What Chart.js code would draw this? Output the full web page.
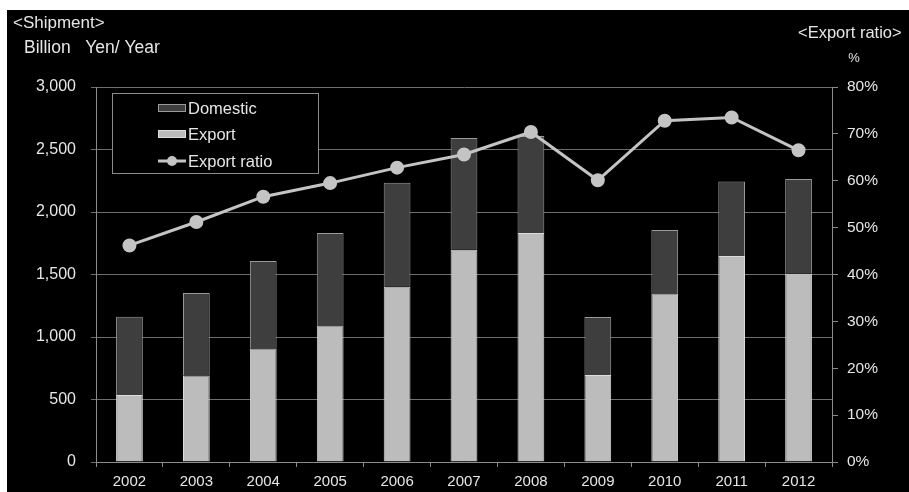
<!DOCTYPE html>
<html>
<head>
<meta charset="utf-8">
<script src="https://cdn.jsdelivr.net/npm/chart.js@4.4.1/dist/chart.umd.min.js"></script>
<style>
  html, body { margin: 0; padding: 0; background: #ffffff; }
  #wrap { position: absolute; left: 7px; top: 10px; width: 902px; height: 482px; background: #000000; }
  canvas { display: block; }
</style>
</head>
<body>
<div id="wrap"><canvas id="chart" width="902" height="482"></canvas></div>
<script>
// Shipment by year, billion yen
const years = ['2002', '2003', '2004', '2005', '2006', '2007', '2008', '2009', '2010', '2011', '2012'];
const exportShipment = [536, 693, 909, 1093, 1403, 1699, 1832, 696, 1349, 1648, 1507];
const domesticShipment = [626, 659, 699, 739, 831, 893, 776, 464, 507, 597, 757];
// Export ratio, percent
const exportRatio = [46.2, 51.2, 56.6, 59.5, 62.8, 65.6, 70.4, 60.1, 72.8, 73.5, 66.5];

const leftTicks = [0, 500, 1000, 1500, 2000, 2500, 3000];
const rightTicks = [0, 10, 20, 30, 40, 50, 60, 70, 80];

const textColor = '#e6e6e6';
const gridColor = '#6e6e6e';
const axisColor = '#8c8c8c';
const fontFamily = '"Liberation Sans", Arial, sans-serif';

// Headings above both value axes
const headings = {
  id: 'headings',
  afterDraw(chart) {
    const ctx = chart.ctx;
    ctx.save();
    ctx.fillStyle = textColor;
    ctx.textBaseline = 'middle';
    ctx.textAlign = 'left';
    ctx.font = '17px ' + fontFamily;
    ctx.fillText('<Shipment>', 6, 13);
    ctx.font = '17.5px ' + fontFamily;
    ctx.fillText('Billion   Yen/ Year', 17, 38);
    ctx.font = '16.5px ' + fontFamily;
    ctx.fillText('<Export ratio>', 791, 23);
    ctx.textAlign = 'center';
    ctx.font = '13px ' + fontFamily;
    ctx.fillText('%', 847, 48);
    ctx.restore();
  }
};

// Boxed legend in the upper left of the plot
const boxLegend = {
  id: 'boxLegend',
  afterDatasetsDraw(chart) {
    const ctx = chart.ctx;
    const area = chart.chartArea;
    const x0 = area.left + 16, y0 = area.top + 6, w = 206, h = 80;
    ctx.save();
    ctx.fillStyle = '#000000';
    ctx.fillRect(x0, y0, w, h);
    ctx.strokeStyle = axisColor;
    ctx.lineWidth = 1;
    ctx.strokeRect(x0 + 0.5, y0 + 0.5, w, h);
    const rows = [15, 41, 68];
    const items = [chart.data.datasets[1], chart.data.datasets[0], chart.data.datasets[2]];
    ctx.font = '16.5px ' + fontFamily;
    ctx.textBaseline = 'middle';
    ctx.textAlign = 'left';
    items.forEach((ds, i) => {
      const cy = y0 + rows[i];
      const sx = x0 + 46;
      if (ds.type === 'line') {
        ctx.strokeStyle = ds.borderColor;
        ctx.lineWidth = 3;
        ctx.beginPath();
        ctx.moveTo(sx, cy);
        ctx.lineTo(sx + 28, cy);
        ctx.stroke();
        ctx.fillStyle = ds.pointBackgroundColor;
        ctx.beginPath();
        ctx.arc(sx + 14, cy, 5, 0, Math.PI * 2);
        ctx.fill();
      } else {
        ctx.fillStyle = ds.backgroundColor;
        ctx.fillRect(sx, cy - 4, 28, 8);
        ctx.strokeStyle = ds.borderColor;
        ctx.lineWidth = 1;
        ctx.strokeRect(sx + 0.5, cy - 3.5, 27, 7);
      }
      ctx.fillStyle = textColor;
      ctx.fillText(ds.label, sx + 30, cy + 1);
    });
    ctx.restore();
  }
};

new Chart(document.getElementById('chart'), {
  data: {
    labels: years,
    datasets: [
      {
        type: 'bar',
        label: 'Export',
        data: exportShipment,
        backgroundColor: '#bcbcbc',
        borderColor: '#dcdcdc',
        borderWidth: 1,
        stack: 'shipment',
        yAxisID: 'y',
        order: 2
      },
      {
        type: 'bar',
        label: 'Domestic',
        data: domesticShipment,
        backgroundColor: '#3e3e3e',
        borderColor: '#9a9a9a',
        borderWidth: 1,
        stack: 'shipment',
        yAxisID: 'y',
        order: 2
      },
      {
        type: 'line',
        label: 'Export ratio',
        data: exportRatio,
        borderColor: '#c4c4c4',
        backgroundColor: '#c4c4c4',
        pointBackgroundColor: '#c4c4c4',
        pointBorderColor: '#c4c4c4',
        borderWidth: 3,
        pointRadius: 5.5,
        tension: 0,
        yAxisID: 'y2',
        order: 0
      }
    ]
  },
  options: {
    responsive: false,
    animation: false,
    layout: { padding: { top: 77, left: 0, right: 0, bottom: 0 } },
    datasets: { bar: { categoryPercentage: 1.0, barPercentage: 0.4 } },
    plugins: { legend: { display: false }, tooltip: { enabled: false } },
    scales: {
      x: {
        stacked: true,
        afterFit(scale) { scale.height = 30; },
        grid: { display: true, drawOnChartArea: false, drawTicks: true, tickLength: 5, color: axisColor, offset: true },
        border: { display: true, color: axisColor },
        ticks: { color: textColor, font: { family: fontFamily, size: 15 }, padding: 6 }
      },
      y: {
        stacked: true,
        position: 'left',
        min: 0,
        max: 3000,
        afterFit(scale) { scale.width = 89; },
        afterBuildTicks(scale) { scale.ticks = leftTicks.map(v => ({ value: v })); },
        grid: { color: gridColor, tickLength: 5, drawTicks: true },
        border: { display: true, color: axisColor },
        ticks: {
          color: textColor,
          font: { family: fontFamily, size: 16 },
          padding: 15,
          callback: v => v.toLocaleString('en-US')
        }
      },
      y2: {
        position: 'right',
        min: 0,
        max: 80,
        afterFit(scale) { scale.width = 77; },
        afterBuildTicks(scale) { scale.ticks = rightTicks.map(v => ({ value: v })); },
        grid: { drawOnChartArea: false, drawTicks: true, tickLength: 6, color: axisColor },
        border: { display: true, color: axisColor },
        ticks: {
          color: textColor,
          font: { family: fontFamily, size: 15.5 },
          padding: 9,
          callback: v => v + '%'
        }
      }
    }
  },
  plugins: [headings, boxLegend]
});
</script>
</body>
</html>
